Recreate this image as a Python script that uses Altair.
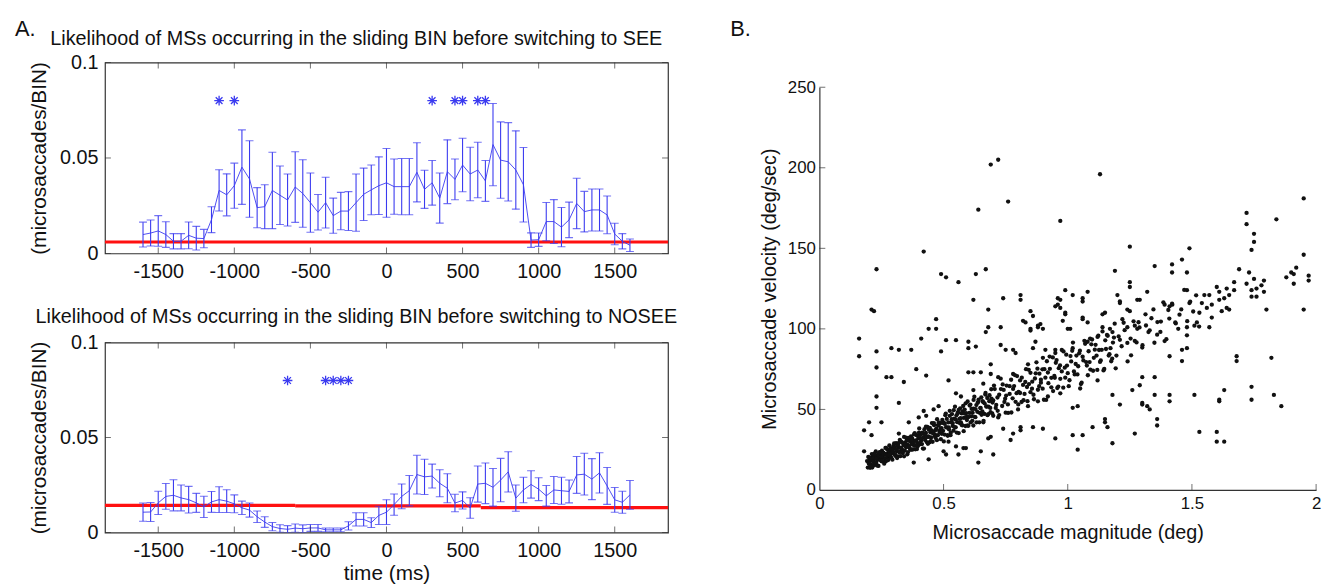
import altair as alt
import pandas as pd

FONT = "Liberation Sans"
BLUE = "#3a3af0"
RED = "#ff1010"
AX = "#333333"

# ---------------- Panel A data ----------------
times = list(range(-1600, 1650, 50))
see_mean = [0.0099, 0.0107, 0.0118, 0.0099, 0.0064, 0.0064, 0.0095, 0.0080, 0.0078, 0.0177,
            0.0330, 0.0307, 0.0355, 0.0452, 0.0390, 0.0240, 0.0245, 0.0330, 0.0305, 0.0280,
            0.0348, 0.0314, 0.0266, 0.0216, 0.0266, 0.0198, 0.0222, 0.0222, 0.0266, 0.0310,
            0.0333, 0.0355, 0.0370, 0.0350, 0.0350, 0.0350, 0.0425, 0.0336, 0.0370, 0.0290,
            0.0428, 0.0388, 0.0463, 0.0416, 0.0437, 0.0380, 0.0570, 0.0489, 0.0480, 0.0437,
            0.0360, 0.0070, 0.0072, 0.0167, 0.0167, 0.0138, 0.0176, 0.0262, 0.0219, 0.0228,
            0.0228, 0.0202, 0.0102, 0.0064, 0.0043]
see_err = [0.0065, 0.0068, 0.0080, 0.0067, 0.0040, 0.0040, 0.0070, 0.0062, 0.0048, 0.0068,
           0.0108, 0.0110, 0.0118, 0.0195, 0.0200, 0.0105, 0.0115, 0.0200, 0.0153, 0.0136,
           0.0185, 0.0177, 0.0155, 0.0093, 0.0133, 0.0092, 0.0098, 0.0102, 0.0150, 0.0137,
           0.0130, 0.0151, 0.0180, 0.0145, 0.0147, 0.0147, 0.0155, 0.0100, 0.0117, 0.0131,
           0.0167, 0.0107, 0.0140, 0.0140, 0.0145, 0.0107, 0.0215, 0.0200, 0.0205, 0.0205,
           0.0195, 0.0038, 0.0035, 0.0100, 0.0115, 0.0103, 0.0093, 0.0132, 0.0106, 0.0110,
           0.0110, 0.0099, 0.0056, 0.0040, 0.0033]
nosee_mean = [0.0107, 0.0108, 0.0156, 0.0190, 0.0196, 0.0182, 0.0173, 0.0156, 0.0135, 0.0161,
              0.0173, 0.0165, 0.0151, 0.0130, 0.0118, 0.0083, 0.0055, 0.0031, 0.0021, 0.0017,
              0.0023, 0.0020, 0.0024, 0.0024, 0.0014, 0.0014, 0.0014, 0.0035, 0.0069, 0.0069,
              0.0052, 0.0090, 0.0107, 0.0147, 0.0190, 0.0220, 0.0305, 0.0293, 0.0297, 0.0259,
              0.0233, 0.0155, 0.0169, 0.0129, 0.0255, 0.0259, 0.0238, 0.0276, 0.0319, 0.0181,
              0.0224, 0.0253, 0.0228, 0.0193, 0.0224, 0.0220, 0.0216, 0.0303, 0.0307, 0.0281,
              0.0314, 0.0245, 0.0172, 0.0159, 0.0198]
nosee_err = [0.0048, 0.0050, 0.0061, 0.0068, 0.0082, 0.0068, 0.0070, 0.0050, 0.0056, 0.0055,
             0.0068, 0.0060, 0.0047, 0.0035, 0.0037, 0.0030, 0.0028, 0.0022, 0.0020, 0.0019,
             0.0022, 0.0020, 0.0018, 0.0018, 0.0010, 0.0010, 0.0010, 0.0022, 0.0035, 0.0035,
             0.0026, 0.0048, 0.0065, 0.0056, 0.0065, 0.0080, 0.0102, 0.0093, 0.0063, 0.0071,
             0.0076, 0.0046, 0.0045, 0.0054, 0.0095, 0.0107, 0.0099, 0.0114, 0.0106, 0.0069,
             0.0067, 0.0072, 0.0060, 0.0054, 0.0071, 0.0071, 0.0060, 0.0097, 0.0110, 0.0108,
             0.0106, 0.0097, 0.0065, 0.0058, 0.0076]
see_stars = [-1100, -1000, 300, 450, 500, 600, 650]
nosee_stars = [-650, -400, -350, -300, -250]
star_level = 0.08
see_thresh = [(-1850, 1850, 0.0060)]
nosee_thresh = [(-1850, -600, 0.0143), (-600, 620, 0.0140), (620, 1850, 0.0131)]
a_xticks = [-1500, -1000, -500, 0, 500, 1000, 1500]
a_yticks = [0, 0.05, 0.1]
a_titles = ["Likelihood of MSs occurring in the sliding BIN before switching to SEE",
            "Likelihood of MSs occurring in the sliding BIN before switching to NOSEE"]
a_ytitle = "(microsaccades/BIN)"
a_xtitle = "time (ms)"
panel_labels = ["A.", "B."]

# ---------------- Panel B data (magnitude deg, velocity deg/s) ----------------
outliers_high = [(0.69, 202), (0.72, 205), (1.13, 196), (0.76, 179), (0.64, 174), (0.97, 167),
                 (0.42, 148), (1.25, 151), (0.23, 137), (0.49, 134), (0.51, 132), (0.56, 129),
                 (0.63, 134), (0.67, 137), (1.19, 136), (1.25, 129), (1.95, 181), (1.72, 172),
                 (1.72, 165), (1.84, 168), (1.75, 159), (1.75, 154), (1.74, 149), (1.95, 146),
                 (1.49, 150), (1.46, 143), (1.35, 139), (1.42, 140), (1.42, 135), (1.48, 135),
                 (1.69, 137), (1.73, 135), (1.92, 138), (1.90, 135), (1.91, 134), (1.88, 132),
                 (1.97, 133), (1.97, 130), (1.91, 128), (1.75, 131), (1.79, 130), (1.72, 128),
                 (1.78, 127), (1.76, 125), (1.74, 124), (1.74, 120), (1.76, 120), (1.79, 123),
                 (1.32, 123), (1.48, 124), (0.99, 124), (1.02, 121), (1.08, 123), (0.81, 121)]
scatter_above = [(0.62, 118), (0.74, 119), (0.81, 118), (0.96, 119), (0.97, 118), (0.95, 114),
                 (1.06, 119), (1.06, 117), (1.21, 116), (1.28, 118), (1.29, 118), (0.21, 112),
                 (0.22, 111), (0.68, 112), (0.85, 111), (0.86, 108), (0.99, 109), (1.14, 109),
                 (1.24, 112), (1.25, 111), (0.47, 106), (0.44, 100), (0.47, 100), (0.68, 101),
                 (0.73, 101), (0.83, 104), (0.85, 99), (0.88, 101), (0.88, 102), (0.98, 105),
                 (1.00, 100), (1.06, 106), (1.08, 104), (1.14, 101), (1.17, 100), (1.22, 106),
                 (1.24, 101), (1.27, 102), (1.28, 100), (0.16, 94), (0.16, 83), (0.23, 86),
                 (0.23, 76), (0.29, 88), (0.32, 87), (0.37, 87), (0.27, 70), (0.29, 70),
                 (0.34, 67), (0.39, 75), (0.41, 94), (0.43, 71), (0.49, 86), (0.51, 93),
                 (0.55, 93), (0.60, 92), (0.60, 88), (0.63, 89), (0.52, 68), (0.60, 73),
                 (0.62, 73), (0.65, 73), (0.67, 98), (0.69, 72), (0.73, 90), (0.75, 87),
                 (0.78, 87), (0.79, 85), (0.69, 78), (0.82, 105), (0.85, 100), (0.89, 103),
                 (0.90, 100), (0.87, 92), (0.91, 87), (0.95, 87), (0.86, 88), (0.96, 115),
                 (0.97, 113), (0.99, 110), (1.01, 100), (1.09, 94), (1.06, 107), (1.15, 110),
                 (1.20, 121), (1.21, 117), (1.25, 126), (1.55, 121), (1.57, 121), (1.61, 123),
                 (1.64, 125), (1.67, 129), (1.67, 124), (1.61, 118), (1.63, 119), (1.65, 121),
                 (1.64, 113), (1.65, 112), (1.62, 111), (1.54, 116), (1.58, 115), (1.56, 113),
                 (1.53, 110), (1.58, 107), (1.57, 101), (1.52, 104), (1.51, 102), (1.48, 101),
                 (1.48, 96), (1.39, 115), (1.41, 114), (1.49, 116), (1.60, 126), (1.80, 112),
                 (1.95, 112), (1.46, 87), (1.48, 88), (1.41, 83), (1.46, 80), (0.62, 62),
                 (0.66, 66), (0.72, 70), (0.78, 72), (0.84, 78), (0.90, 82), (0.95, 85),
                 (1.02, 88), (1.08, 92), (1.12, 95), (1.18, 98), (0.55, 60), (0.57, 58),
                 (0.46, 50), (0.48, 52), (0.36, 42), (0.40, 45)]
scatter_below = [(0.18, 24), (0.21, 34), (0.18, 37), (0.20, 42), (0.25, 42), (0.23, 51),
                 (0.23, 58), (0.32, 54), (0.28, 24), (0.36, 31), (0.38, 17), (0.32, 35),
                 (0.42, 49), (0.43, 46), (0.44, 19), (0.52, 30), (0.50, 24), (0.51, 22),
                 (0.55, 27), (0.56, 22), (0.58, 26), (0.59, 26), (0.64, 17), (0.65, 24),
                 (0.68, 32), (0.69, 33), (0.70, 22), (0.74, 38), (0.77, 31), (0.78, 35),
                 (0.81, 39), (0.81, 37), (0.86, 39), (0.90, 38), (0.95, 32), (1.02, 34),
                 (1.04, 52), (1.06, 34), (1.04, 25), (1.02, 51), (1.10, 39), (1.15, 42),
                 (1.15, 44), (1.16, 39), (1.18, 29), (1.18, 59), (1.21, 53), (1.27, 35),
                 (1.26, 62), (1.29, 65), (1.30, 54), (1.30, 53), (1.32, 52), (1.33, 50),
                 (1.30, 70), (1.35, 70), (1.36, 44), (1.36, 40), (1.35, 59), (1.41, 59),
                 (1.41, 55), (1.68, 83), (1.68, 80), (1.82, 82), (1.74, 64), (1.74, 56),
                 (1.83, 59), (1.86, 52), (1.63, 62), (1.61, 56), (1.61, 55), (1.60, 36),
                 (1.53, 36), (1.60, 30), (1.63, 30), (1.51, 59), (0.62, 40), (0.66, 42),
                 (0.70, 46), (0.72, 45), (0.75, 48), (0.80, 50), (0.84, 52), (0.88, 55),
                 (0.92, 58), (0.97, 60), (1.05, 63), (1.12, 68)]
band_small = [(0.192, 17.9), (0.195, 13.9), (0.197, 20.5), (0.199, 16.4), (0.202, 19.4), (0.204, 13.8),
              (0.206, 18.2), (0.208, 15.8), (0.211, 22.3), (0.213, 13.9), (0.215, 18.3), (0.217, 21.2),
              (0.220, 17.2), (0.222, 15.5), (0.224, 19.7), (0.227, 23.9), (0.229, 16.8), (0.231, 20.9),
              (0.233, 18.6), (0.236, 22.0), (0.238, 14.9), (0.240, 19.8), (0.243, 23.5), (0.245, 18.7),
              (0.247, 21.8), (0.250, 17.8), (0.252, 24.4), (0.254, 20.3), (0.257, 23.2), (0.259, 17.6),
              (0.261, 22.0), (0.264, 19.7), (0.266, 26.1), (0.268, 17.8), (0.271, 22.2), (0.273, 25.1),
              (0.275, 21.0), (0.278, 19.5), (0.280, 23.6), (0.282, 27.7), (0.285, 20.7), (0.287, 24.8),
              (0.289, 22.5), (0.292, 25.9), (0.294, 18.8), (0.296, 23.7), (0.299, 27.4), (0.301, 22.3),
              (0.304, 26.1), (0.306, 21.1), (0.309, 29.1), (0.311, 24.2), (0.314, 27.7), (0.316, 20.9),
              (0.319, 26.2), (0.321, 23.4), (0.324, 31.1), (0.326, 21.0), (0.329, 26.3), (0.331, 29.8),
              (0.334, 24.9), (0.336, 22.9), (0.339, 27.9), (0.341, 32.9), (0.344, 24.4), (0.346, 29.3),
              (0.349, 26.5), (0.351, 30.6), (0.354, 22.1), (0.356, 27.9), (0.359, 32.3), (0.361, 26.5),
              (0.364, 30.3), (0.366, 25.3), (0.369, 33.3), (0.371, 28.4), (0.374, 31.9), (0.376, 25.1),
              (0.379, 30.4), (0.381, 27.6), (0.384, 35.3), (0.386, 25.2), (0.389, 30.5), (0.391, 34.0),
              (0.394, 29.1), (0.396, 27.1), (0.399, 32.1)]
band_small_2 = [(0.201, 16.1), (0.205, 20.1), (0.209, 14.4), (0.213, 19.2), (0.217, 17.9), (0.221, 22.5),
                (0.225, 16.8), (0.229, 19.5), (0.233, 15.1), (0.237, 21.8), (0.241, 23.1), (0.245, 18.7),
                (0.249, 20.4), (0.253, 18.2), (0.257, 23.0), (0.261, 16.3), (0.265, 22.4), (0.269, 26.1),
                (0.273, 21.5), (0.277, 18.6), (0.281, 21.7), (0.285, 25.7), (0.289, 20.0), (0.293, 24.8),
                (0.297, 23.5), (0.301, 28.9), (0.305, 22.0), (0.309, 25.2), (0.313, 19.8), (0.317, 27.9),
                (0.321, 29.4), (0.325, 24.0), (0.329, 26.0), (0.333, 23.3), (0.337, 29.0), (0.341, 20.9),
                (0.345, 28.2), (0.349, 32.5), (0.353, 27.0), (0.357, 23.5), (0.361, 27.1), (0.365, 31.9),
                (0.369, 24.9), (0.373, 30.6), (0.377, 29.1), (0.381, 34.5), (0.385, 27.6), (0.389, 30.8),
                (0.393, 25.4), (0.397, 33.5)]
band_mid = [(0.402, 38.2), (0.405, 28.3), (0.408, 34.1), (0.411, 30.8), (0.414, 35.6), (0.417, 25.7),
            (0.420, 32.6), (0.423, 37.7), (0.426, 31.0), (0.429, 35.4), (0.432, 29.7), (0.435, 39.1),
            (0.438, 33.3), (0.441, 37.4), (0.444, 29.6), (0.447, 35.8), (0.450, 32.6), (0.453, 41.5),
            (0.456, 29.9), (0.459, 36.1), (0.462, 40.2), (0.465, 34.5), (0.468, 32.2), (0.471, 38.1),
            (0.474, 43.9), (0.477, 34.0), (0.480, 39.9), (0.483, 36.6), (0.486, 41.4), (0.489, 31.5),
            (0.492, 38.4), (0.495, 43.5), (0.498, 36.7), (0.501, 41.8), (0.504, 34.4), (0.507, 46.4),
            (0.510, 38.9), (0.513, 44.1), (0.516, 34.0), (0.519, 41.9), (0.522, 37.6), (0.525, 49.1),
            (0.528, 34.0), (0.531, 41.9), (0.534, 47.1), (0.537, 39.7), (0.540, 36.8), (0.543, 44.2),
            (0.546, 51.7), (0.549, 38.9), (0.552, 46.3), (0.555, 42.1), (0.558, 48.1), (0.561, 35.3),
            (0.564, 44.1), (0.567, 50.7), (0.570, 41.9), (0.573, 47.5), (0.576, 40.1), (0.579, 52.1),
            (0.582, 44.7), (0.585, 49.9), (0.588, 39.7), (0.591, 47.6), (0.594, 43.4), (0.597, 54.9),
            (0.600, 39.8), (0.604, 47.8), (0.608, 53.0), (0.612, 45.7), (0.616, 42.9), (0.620, 50.4),
            (0.624, 57.9), (0.628, 45.2), (0.632, 52.7), (0.636, 48.5), (0.640, 54.7), (0.644, 42.0),
            (0.648, 50.8), (0.652, 57.5), (0.656, 48.8), (0.660, 54.5), (0.664, 47.2), (0.668, 59.2),
            (0.672, 51.9), (0.676, 57.1), (0.680, 47.1), (0.684, 55.1), (0.688, 50.9), (0.692, 62.5),
            (0.696, 47.5)]
band_mid_2 = [(0.401, 35.6), (0.405, 29.3), (0.409, 31.7), (0.413, 28.5), (0.417, 35.2), (0.421, 25.7),
              (0.425, 34.2), (0.429, 39.3), (0.433, 32.8), (0.437, 28.7), (0.441, 32.9), (0.445, 38.5),
              (0.449, 30.4), (0.453, 37.0), (0.457, 35.2), (0.461, 41.5), (0.465, 33.4), (0.469, 37.2),
              (0.473, 30.9), (0.477, 40.3), (0.481, 42.0), (0.485, 35.7), (0.489, 38.1), (0.493, 34.9),
              (0.497, 41.6), (0.501, 30.1), (0.505, 41.0), (0.509, 47.4), (0.513, 38.9), (0.517, 33.6),
              (0.521, 38.9), (0.525, 46.0), (0.529, 35.5), (0.533, 43.9), (0.537, 41.5), (0.541, 49.5),
              (0.545, 39.0), (0.549, 43.8), (0.553, 35.6), (0.557, 47.6), (0.561, 49.7), (0.565, 41.5),
              (0.569, 44.5), (0.573, 40.3), (0.577, 48.8), (0.581, 36.5), (0.585, 47.4), (0.589, 53.8),
              (0.593, 45.3), (0.597, 40.0), (0.601, 45.3), (0.605, 52.4), (0.609, 41.9), (0.613, 50.3),
              (0.617, 47.9), (0.621, 55.9), (0.625, 45.4), (0.629, 50.2), (0.633, 42.0), (0.637, 54.0),
              (0.641, 56.1), (0.645, 47.9), (0.649, 50.9), (0.653, 46.7), (0.657, 55.2), (0.661, 42.9),
              (0.665, 53.8), (0.669, 60.2), (0.673, 51.7), (0.677, 46.4), (0.681, 51.7), (0.685, 58.8),
              (0.689, 48.3), (0.693, 56.7), (0.697, 54.3)]
band_large = [(0.700, 55.6), (0.706, 62.6), (0.712, 52.8), (0.718, 49.1), (0.724, 59.1), (0.730, 69.1),
              (0.736, 52.1), (0.742, 62.1), (0.748, 56.6), (0.754, 64.8), (0.760, 47.8), (0.766, 59.6),
              (0.772, 68.4), (0.778, 56.9), (0.784, 64.5), (0.790, 54.7), (0.796, 70.7), (0.802, 60.9),
              (0.808, 68.0), (0.814, 54.6), (0.820, 65.2), (0.826, 59.6), (0.832, 75.0), (0.838, 55.1),
              (0.844, 65.7), (0.850, 72.7), (0.856, 62.9), (0.862, 59.1), (0.868, 69.2), (0.874, 79.2),
              (0.880, 62.2), (0.886, 72.2), (0.892, 66.6), (0.898, 74.9), (0.904, 56.0), (0.910, 69.7),
              (0.916, 79.9), (0.922, 66.3), (0.928, 75.2), (0.934, 63.7), (0.940, 82.3), (0.946, 70.8),
              (0.952, 78.9), (0.958, 63.3), (0.964, 75.6), (0.970, 69.0), (0.976, 86.9), (0.982, 63.5),
              (0.988, 75.9), (0.994, 84.0), (1.000, 72.5), (1.007, 68.1), (1.014, 79.8), (1.021, 91.5),
              (1.028, 71.7), (1.035, 83.4), (1.042, 76.8), (1.049, 86.4), (1.056, 66.6), (1.063, 80.4),
              (1.070, 90.7), (1.077, 77.2), (1.084, 86.1), (1.091, 74.7), (1.098, 93.4), (1.105, 82.0),
              (1.112, 90.1), (1.119, 74.5), (1.126, 86.9), (1.133, 80.4), (1.140, 98.4), (1.147, 75.1),
              (1.154, 87.5), (1.161, 95.7), (1.168, 84.3), (1.175, 79.9), (1.182, 91.5), (1.189, 103.2),
              (1.196, 83.4), (1.205, 95.3), (1.217, 89.2), (1.229, 99.2), (1.241, 79.8), (1.253, 94.0),
              (1.265, 104.7), (1.277, 91.6), (1.289, 100.9), (1.301, 89.9), (1.313, 109.0), (1.325, 98.0),
              (1.337, 106.6), (1.349, 91.4), (1.361, 104.2), (1.373, 98.1), (1.385, 116.5), (1.397, 93.6),
              (1.409, 106.4), (1.421, 115.0), (1.433, 104.0), (1.445, 100.0), (1.457, 112.1),
              (1.469, 124.2), (1.481, 104.8), (1.493, 116.9), (1.505, 110.8), (1.517, 120.8),
              (1.529, 101.4)]
band_large_2 = [(0.703, 64.8), (0.710, 50.9), (0.717, 57.4), (0.724, 46.5), (0.731, 62.6), (0.738, 65.5),
                (0.745, 54.6), (0.752, 58.6), (0.759, 53.1), (0.766, 64.4), (0.773, 48.1), (0.780, 62.7),
                (0.787, 71.3), (0.794, 60.1), (0.801, 53.1), (0.808, 60.2), (0.815, 69.7), (0.822, 55.7),
                (0.829, 67.0), (0.836, 63.9), (0.843, 74.6), (0.850, 60.7), (0.857, 67.2), (0.864, 56.3),
                (0.871, 72.4), (0.878, 75.3), (0.885, 64.4), (0.892, 68.4), (0.899, 62.9), (0.906, 75.0),
                (0.913, 55.9), (0.920, 72.9), (0.927, 82.8), (0.934, 69.6), (0.941, 61.4), (0.948, 69.6),
                (0.955, 80.6), (0.962, 64.2), (0.969, 77.3), (0.976, 73.6), (0.983, 86.0), (0.990, 69.7),
                (0.997, 77.2), (1.004, 64.4), (1.011, 83.1), (1.018, 86.4), (1.025, 73.6), (1.032, 78.2),
                (1.039, 71.7), (1.046, 84.8), (1.053, 65.7), (1.060, 82.7), (1.067, 92.6), (1.074, 79.4),
                (1.081, 71.2), (1.088, 79.4), (1.095, 90.4), (1.102, 74.0), (1.109, 87.1), (1.116, 83.4),
                (1.123, 95.8), (1.130, 79.5), (1.137, 87.0), (1.144, 74.2), (1.151, 92.9), (1.158, 96.2),
                (1.165, 83.4), (1.172, 88.0), (1.179, 81.5), (1.186, 94.6), (1.193, 75.5), (1.210, 93.2),
                (1.225, 103.8), (1.240, 91.3), (1.255, 83.6), (1.270, 92.5), (1.285, 104.1), (1.300, 88.4),
                (1.315, 102.1), (1.330, 99.1), (1.345, 112.1), (1.360, 96.4), (1.375, 104.5), (1.390, 92.4),
                (1.405, 111.7), (1.420, 115.6), (1.435, 103.4), (1.450, 108.8)]
b_xticks = [0, 0.5, 1, 1.5, 2]
b_yticks = [0, 50, 100, 150, 200, 250]
b_xtitle = "Microsaccade magnitude (deg)"
b_ytitle = "Microsaccade velocity (deg/sec)"

ASTERISK = "M0,-1L0,1M-1,0L1,0M-0.7,-0.7L0.7,0.7M-0.7,0.7L0.7,-0.7"


def txt(s, x, y, size, align="left", baseline="alphabetic"):
    return alt.Chart(pd.DataFrame({"s": [s]})).mark_text(
        font=FONT, fontSize=size, align=align, baseline=baseline, color="#111111"
    ).encode(text="s:N", x=alt.value(x), y=alt.value(y))


def a_panel(mean, err, stars, thresh, title, xtitle, label, h, title_y):
    XS = alt.Scale(domain=[-1850, 1850], nice=False, zero=False)
    YS = alt.Scale(domain=[0, 0.1], nice=False)
    xax = alt.Axis(values=a_xticks, title=xtitle, domain=False, ticks=False, grid=False,
                   labelExpr="'' + datum.value", labelFontSize=20, labelPadding=8,
                   titleFontSize=21, titlePadding=2, labelFlush=False, labelOverlap=False)
    yax = alt.Axis(values=a_yticks, title=a_ytitle, domain=False, ticks=False, grid=False,
                   format="~g", labelFontSize=20, labelPadding=7, titleFontSize=21,
                   titlePadding=10, labelOverlap=False)

    def X(f):
        return alt.X(f, type="quantitative", scale=XS, axis=xax)

    def Y(f):
        return alt.Y(f, type="quantitative", scale=YS, axis=yax)

    df = pd.DataFrame({"t": times, "m": mean, "e": err})
    base = alt.Chart(df).transform_calculate(lo="datum.m - datum.e", hi="datum.m + datum.e")
    bars = base.mark_rule(color=BLUE, strokeWidth=1.1, clip=True).encode(x=X("t"), y=Y("lo"), y2="hi:Q")
    cap_hi = base.mark_tick(color=BLUE, orient="horizontal", size=8, thickness=1.1, clip=True).encode(x=X("t"), y=Y("hi"))
    cap_lo = base.mark_tick(color=BLUE, orient="horizontal", size=8, thickness=1.1, clip=True).encode(x=X("t"), y=Y("lo"))
    line = base.mark_line(color=BLUE, strokeWidth=0.9).encode(x=X("t"), y=Y("m"))
    tdf = pd.DataFrame({"x0": [a for a, b, c in thresh], "x1": [b for a, b, c in thresh],
                        "v": [c for a, b, c in thresh]})
    red = alt.Chart(tdf).mark_rule(color=RED, strokeWidth=3.2).encode(x=X("x0"), x2="x1:Q", y=Y("v"))
    sdf = pd.DataFrame({"t": stars, "v": [star_level] * len(stars)})
    st = alt.Chart(sdf).mark_point(shape=ASTERISK, size=95, filled=False, color=BLUE,
                                   strokeWidth=1.3, opacity=1).encode(x=X("t"), y=Y("v"))
    xt = pd.DataFrame({"t": a_xticks, "b": [0] * 7, "tp": [0.1] * 7})
    yt = pd.DataFrame({"v": a_yticks, "l": [-1850] * 3, "r": [1850] * 3})
    tb = alt.Chart(xt).mark_tick(orient="vertical", size=6, thickness=1, color=AX, yOffset=-3).encode(x=X("t"), y=Y("b"))
    tt = alt.Chart(xt).mark_tick(orient="vertical", size=6, thickness=1, color=AX, yOffset=3).encode(x=X("t"), y=Y("tp"))
    tl = alt.Chart(yt).mark_tick(orient="horizontal", size=6, thickness=1, color=AX, xOffset=3).encode(x=X("l"), y=Y("v"))
    tr = alt.Chart(yt).mark_tick(orient="horizontal", size=6, thickness=1, color=AX, xOffset=-3).encode(x=X("r"), y=Y("v"))
    layers = [red, bars, cap_hi, cap_lo, line, st, tb, tt, tl, tr,
              txt(title, 254, title_y, 20, align="center", baseline="middle")]
    if label:
        layers.append(txt(label, -91, -27, 22))
    return alt.layer(*layers).properties(
        width=569, height=h, view=alt.ViewBackground(stroke=AX, strokeWidth=1.2))


A1 = a_panel(see_mean, see_err, see_stars, see_thresh, a_titles[0], None, panel_labels[0], 193, -24)
A2 = a_panel(nosee_mean, nosee_err, nosee_stars, nosee_thresh, a_titles[1], a_xtitle, None, 192, -26)

# ---------------- Panel B ----------------
groups = [outliers_high, scatter_above, scatter_below, band_small, band_small_2, band_mid,
          band_mid_2, band_large, band_large_2]
pts = [p for g in groups for p in g]
bdf = pd.DataFrame({"mag": [p[0] for p in pts], "vel": [p[1] for p in pts]})
BXS = alt.Scale(domain=[0, 2], nice=False)
BYS = alt.Scale(domain=[0, 250], nice=False)
bxax = alt.Axis(values=b_xticks, format="~g", title=b_xtitle, domainColor=AX, domainWidth=1.2,
                ticks=False, grid=False, labelFontSize=17, labelPadding=6, titleFontSize=20,
                titlePadding=11, labelFlush=False, labelOverlap=False)
byax = alt.Axis(values=b_yticks, title=b_ytitle, domainColor=AX, domainWidth=1.2, ticks=False,
                grid=False, labelFontSize=17, labelPadding=4, titleFontSize=20, titlePadding=8,
                labelOverlap=False)


def BX(f):
    return alt.X(f, type="quantitative", scale=BXS, axis=bxax)


def BY(f):
    return alt.Y(f, type="quantitative", scale=BYS, axis=byax)


scatter = alt.Chart(bdf).mark_point(filled=True, shape="circle", size=19, color="#111111",
                                    opacity=1).encode(x=BX("mag"), y=BY("vel"))
bxt = pd.DataFrame({"t": b_xticks[1:], "b": [0] * 4})
byt = pd.DataFrame({"v": b_yticks[1:], "l": [0] * 5})
btx = alt.Chart(bxt).mark_tick(orient="vertical", size=6, thickness=1, color=AX, yOffset=-3).encode(x=BX("t"), y=BY("b"))
bty = alt.Chart(byt).mark_tick(orient="horizontal", size=6, thickness=1, color=AX, xOffset=3).encode(x=BX("l"), y=BY("v"))
B = alt.layer(scatter, btx, bty).properties(width=502, height=407)
B_label = txt(panel_labels[1], -90, -27, 22).properties(width=502, height=10)

chart = alt.hconcat(
    alt.vconcat(A1, A2, spacing=24),
    alt.vconcat(B_label, B, spacing=6),
    spacing=52,
).properties(padding={"left": 6, "top": 6, "right": 5, "bottom": 0}).configure_view(
    stroke=None).configure_axis(labelFont=FONT, titleFont=FONT, labelColor="#111111",
                                titleColor="#111111", titleFontWeight="normal")

chart.save("out.html", embed_options={"renderer": "svg", "actions": False})
